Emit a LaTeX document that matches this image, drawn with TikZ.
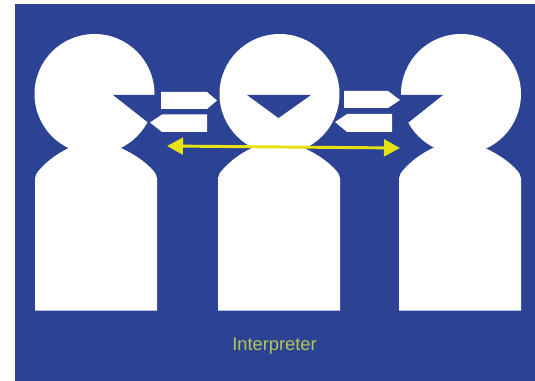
\documentclass[tikz,border=0pt]{standalone}
\usepackage{fontspec}
\setmainfont{Liberation Sans}
\usetikzlibrary{arrows.meta}
\definecolor{bgblue}{HTML}{2C4295}
\definecolor{arrowyellow}{HTML}{E6E210}
\definecolor{labelgreen}{HTML}{B4C850}
\tikzset{
  white part/.style={fill=white,draw=none},
  blue part/.style={fill=bgblue,draw=none},
  two way/.style={draw=arrowyellow,line width=2.2pt,{Triangle[length=12pt,width=12.5pt]}-{Triangle[length=12pt,width=12.5pt]}},
  caption/.style={text=labelgreen,font=\fontsize{13.7}{16}\selectfont,inner sep=0pt}
}
\newcommand{\personbody}[1]{%
  \begin{scope}[xshift=#1*0.75pt]
  \fill[white part] (35,310.5) -- (35,178)
    .. controls (36,175) and (36.5,173) .. (38,171.5)
    .. controls (46,162) and (56,154) .. (70,147.5)
    .. controls (80,142) and (110,142) .. (120,147.5)
    .. controls (134,154) and (146,162) .. (154,171.5)
    .. controls (155.5,173) and (156,175) .. (157,178)
    -- (157,310.5) -- cycle;
  \end{scope}}
\begin{document}
\begin{tikzpicture}[x=0.75pt,y=-0.75pt]
\useasboundingbox (0,0) rectangle (535,381);
\fill[white] (0,0) rectangle (535,381);
\fill[blue part] (15,4) rectangle (535,381);
% bodies
\personbody{0}
\personbody{183}
\personbody{364}
% heads
\fill[white part] (94.5,94) circle[radius=60];
\fill[white part] (279.5,94) circle[radius=60];
\fill[white part] (461,94) circle[radius=60];
% mouths
\fill[blue part] (113,95) -- (157,95) -- (157,129.5) -- cycle;
\fill[blue part] (247,95) -- (311,95) -- (278.5,118) -- cycle;
\fill[blue part] (443,95) -- (399,95) -- (399,130) -- cycle;
% speech arrows
\fill[white part] (161,92) -- (207,92) -- (217,100.5) -- (207,109) -- (161,109) -- cycle;
\fill[white part] (207,114.5) -- (162,114.5) -- (150,122.5) -- (162,132) -- (207,132) -- cycle;
\fill[white part] (344,91) -- (388,91) -- (400,100) -- (388,108) -- (344,108) -- cycle;
\fill[white part] (392,114) -- (347,114) -- (335,122) -- (347,132) -- (392,132) -- cycle;
% interpreter link
\coordinate (linkL) at (167,146);
\coordinate (linkR) at (400,148);
\draw[two way] (linkL) -- (linkR);
\node[caption,anchor=base] (label) at (274.5,350) {Interpreter};
\end{tikzpicture}
\end{document}
